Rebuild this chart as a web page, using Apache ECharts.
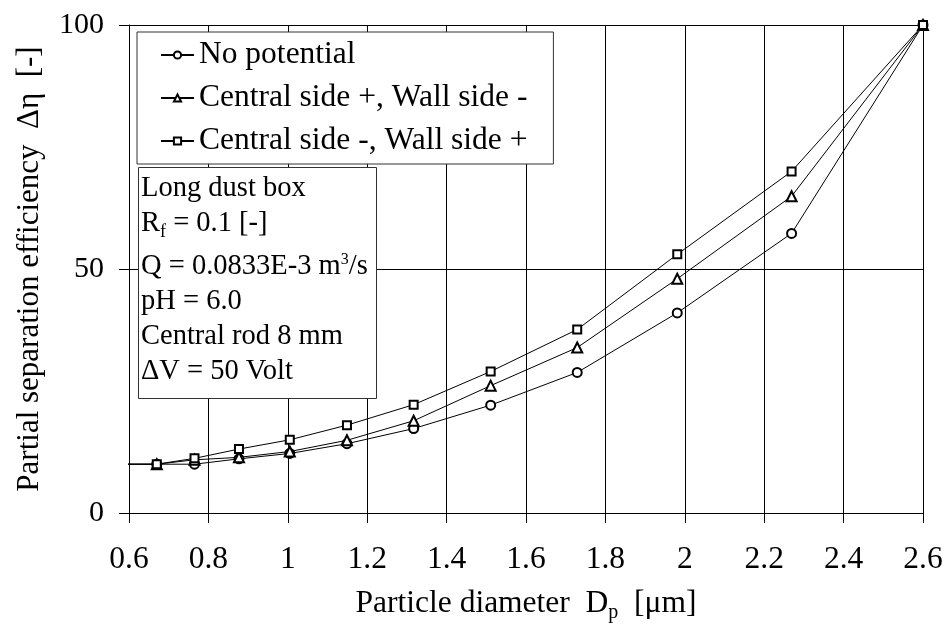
<!DOCTYPE html>
<html>
<head>
<meta charset="utf-8">
<script src="https://cdn.jsdelivr.net/npm/echarts@6/dist/echarts.min.js"></script>
<style>
  html, body { margin: 0; padding: 0; background: #fff; }
  #myChart { width: 948px; height: 624px; }
</style>
</head>
<body>
<div id="myChart"></div>
<script>
// particle diameter Dp [um]
var diameters = [0.59, 0.67, 0.765, 0.877, 1.005, 1.149, 1.317, 1.511, 1.729, 1.981, 2.269, 2.6];
// partial separation efficiency [%]
var noPotential = [10, 10, 10, 11.1, 12.2, 14.2, 17.3, 22.1, 28.8, 41.0, 57.3, 100];
var centralPlus = [10, 10, 10.9, 11.4, 12.6, 14.9, 18.9, 26.1, 33.9, 48.0, 64.9, 100];
var centralMinus = [10, 10, 11.2, 13.1, 15.0, 18.0, 22.2, 29.0, 37.6, 53.0, 70.0, 100];
var seriesNames = ["No potential", "Central side +, Wall side -", "Central side -, Wall side +"];
var xTicks = { min: 0.6, max: 2.6, step: 0.2 };
var yTicks = { min: 0, max: 100, step: 50 };

var font = "'Liberation Serif', 'DejaVu Serif', serif";

function pairs(values) {
  var out = [];
  for (var i = 0; i < diameters.length; i++) {
    // first point only carries the line back to the axis
    if (i === 0) {
      out.push({ value: [diameters[i], values[i]], symbol: "none" });
    } else {
      out.push([diameters[i], values[i]]);
    }
  }
  return out;
}

function lineSeries(name, values, symbol, size) {
  return {
    name: name,
    type: "line",
    data: pairs(values),
    symbol: symbol,
    symbolSize: size,
    showAllSymbol: true,
    clip: false,
    lineStyle: { color: "#000", width: 1 },
    itemStyle: { color: "#000", borderColor: "#000", borderWidth: 1 },
    animation: false
  };
}

var option = {
  backgroundColor: "#fff",
  title: {
    text: [
      "Long dust box",
      "R{sub|f} = 0.1 [-]",
      "{q|Q = 0.0833E-3 m}{sup|3}{q|/s}",
      "pH = 6.0",
      "Central rod 8 mm",
      "\u0394V = 50 Volt"
    ].join("\n"),
    left: 138,
    top: 167,
    padding: [4, 9, 10, 3],
    borderWidth: 1,
    borderColor: "#333",
    backgroundColor: "#fff",
    textStyle: {
      fontFamily: font,
      fontSize: 28.5,
      fontWeight: "normal",
      color: "#000",
      lineHeight: 35,
      rich: {
        sub: { fontFamily: font, fontSize: 18, color: "#000", verticalAlign: "bottom", lineHeight: 35 },
        q: { fontFamily: font, fontSize: 28.5, color: "#000", lineHeight: 43, padding: [8, 0, 0, 0] },
        sup: { fontFamily: font, fontSize: 16, color: "#000", padding: [0, 0, 5, 0] }
      }
    },
    z: 10
  },
  legend: {
    data: seriesNames,
    orient: "vertical",
    left: 137,
    top: 32,
    padding: [7, 26, 7, 23],
    itemGap: 11,
    itemWidth: 33,
    itemHeight: 9,
    borderWidth: 1,
    borderColor: "#333",
    backgroundColor: "#fff",
    selectedMode: false,
    textStyle: { fontFamily: font, fontSize: 31.5, color: "#000" },
    z: 10
  },
  grid: {
    left: 129,
    right: 25,
    top: 25,
    bottom: 111,
    outerBoundsMode: "none",
    containLabel: false
  },
  xAxis: {
    type: "value",
    min: xTicks.min,
    max: xTicks.max,
    interval: xTicks.step,
    name: "Particle diameter  D{sub|p}  [\u03bcm]",
    nameLocation: "middle",
    nameGap: 72,
    nameTextStyle: {
      fontFamily: font,
      fontSize: 31.5,
      color: "#000",
      rich: {
        sub: { fontFamily: font, fontSize: 20, color: "#000", verticalAlign: "bottom", lineHeight: 38 }
      }
    },
    axisLine: { lineStyle: { color: "#000", width: 1 } },
    axisTick: { inside: false, length: 10, lineStyle: { color: "#000" } },
    axisLabel: {
      fontFamily: font,
      fontSize: 31.5,
      color: "#000",
      margin: 31,
      formatter: function (v) { return String(+v.toFixed(1)); }
    },
    splitLine: { show: true, lineStyle: { color: "#000", width: 1 } }
  },
  yAxis: {
    type: "value",
    min: yTicks.min,
    max: yTicks.max,
    interval: yTicks.step,
    name: "Partial separation efficiency  \u0394\u03b7  [-]",
    nameLocation: "middle",
    nameGap: 84,
    nameTextStyle: { fontFamily: font, fontSize: 31, color: "#000" },
    axisLine: { show: true, lineStyle: { color: "#000", width: 1 } },
    axisTick: { show: true, inside: false, length: 10, lineStyle: { color: "#000" } },
    axisLabel: { fontFamily: font, fontSize: 30, color: "#000", margin: 25 },
    splitLine: { show: true, lineStyle: { color: "#000", width: 1 } }
  },
  series: [
    lineSeries(seriesNames[0], noPotential, "emptyCircle", 9),
    lineSeries(seriesNames[1], centralPlus, "emptyTriangle", 10),
    lineSeries(seriesNames[2], centralMinus, "emptyRect", 8)
  ]
};

var myChart = echarts.init(document.getElementById("myChart"));
myChart.setOption(option);
</script>
</body>
</html>
